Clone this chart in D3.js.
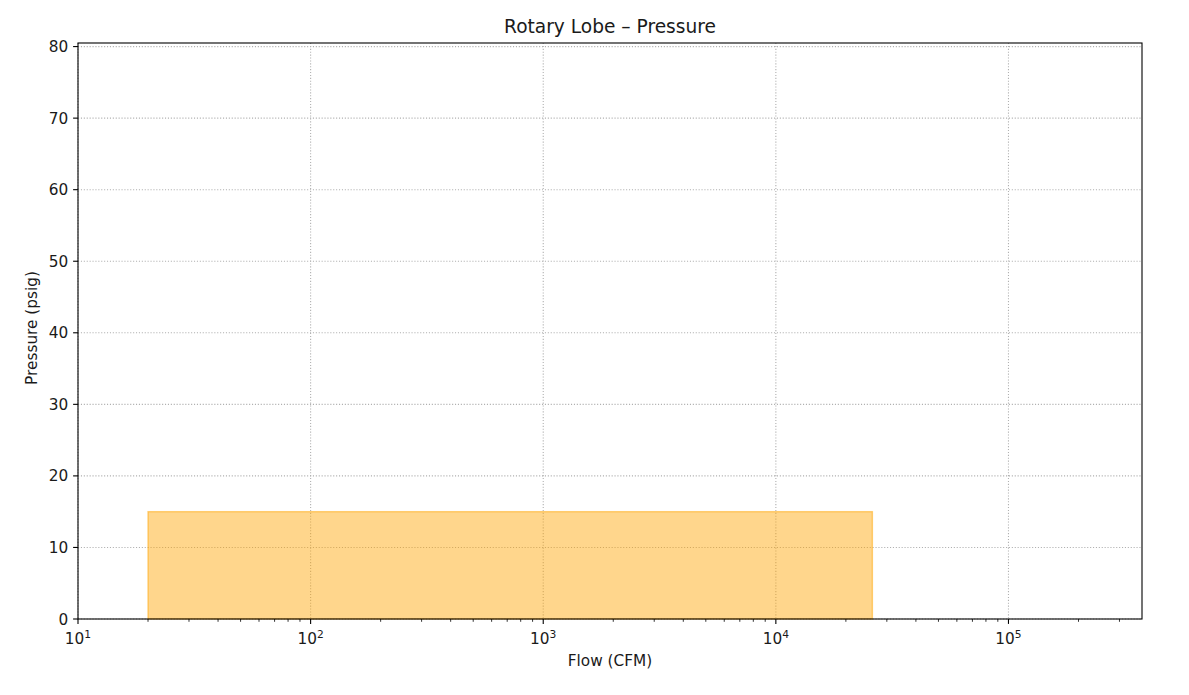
<!DOCTYPE html>
<html>
<head>
<meta charset="utf-8">
<script src="https://cdn.jsdelivr.net/npm/d3@7"></script>
<style>
  body { margin: 0; background: #fff; }
  text { font-family: "DejaVu Sans", sans-serif; fill: #1a1a1a; }
</style>
</head>
<body>
<div id="chart"></div>
<script>
// data
const ranges = ["Rotary Lobe"];
const flowMin = [20];
const flowMax = [26000];
const pressureMax = [15];
const xDomain = [10, 375000];
const yDomain = [0, 80.5];
const yTicks = [0, 10, 20, 30, 40, 50, 60, 70, 80];
const xDecades = [10, 100, 1000, 10000, 100000];

const margin = {top: 43, right: 47, bottom: 76, left: 78},
    width = 1189 - margin.left - margin.right,
    height = 695 - margin.top - margin.bottom;

var svg = d3.select("#chart")
  .append("svg")
    .attr("width", 1189)
    .attr("height", 695)
  .append("g")
    .attr("transform", "translate(" + margin.left + "," + margin.top + ")");

var x = d3.scaleLog().domain(xDomain).range([0, width]);
var y = d3.scaleLinear().domain(yDomain).range([height, 0]);

// grid
svg.append("g")
  .selectAll("line")
  .data(xDecades)
  .enter().append("line")
  .attr("x1", d => x(d)).attr("x2", d => x(d))
  .attr("y1", 0).attr("y2", height)
  .attr("stroke", "#b0b0b0").attr("stroke-width", 1.1)
  .attr("stroke-dasharray", "1.1,1.8");

svg.append("g")
  .selectAll("line")
  .data(yTicks)
  .enter().append("line")
  .attr("x1", 0).attr("x2", width)
  .attr("y1", d => y(d)).attr("y2", d => y(d))
  .attr("stroke", "#b0b0b0").attr("stroke-width", 1.1)
  .attr("stroke-dasharray", "1.1,1.8");

// range area
svg.selectAll("rect.range")
  .data(ranges)
  .enter().append("rect")
  .attr("class", "range")
  .attr("x", (d, i) => x(flowMin[i]))
  .attr("y", (d, i) => y(pressureMax[i]))
  .attr("width", (d, i) => x(flowMax[i]) - x(flowMin[i]))
  .attr("height", (d, i) => y(0) - y(pressureMax[i]))
  .attr("fill", "orange")
  .attr("fill-opacity", 0.45)
  .attr("stroke", "orange")
  .attr("stroke-opacity", 0.5)
  .attr("stroke-width", 1.4);

// minor x ticks
var minor = [];
xDecades.forEach(function(d) {
  for (var k = 2; k <= 9; k++) {
    if (d * k <= xDomain[1]) minor.push(d * k);
  }
});

svg.append("g")
  .selectAll("line")
  .data(minor)
  .enter().append("line")
  .attr("x1", d => x(d)).attr("x2", d => x(d))
  .attr("y1", height).attr("y2", height + 2.8)
  .attr("stroke", "#000").attr("stroke-width", 0.8);

// major x ticks
var xt = svg.append("g")
  .selectAll("g")
  .data(xDecades)
  .enter().append("g")
  .attr("transform", d => "translate(" + x(d) + "," + height + ")");

xt.append("line")
  .attr("y2", 4.9)
  .attr("stroke", "#000").attr("stroke-width", 1.1);

var xl = xt.append("text")
  .attr("y", 25)
  .attr("text-anchor", "middle")
  .style("font-size", "15.3px");
xl.append("tspan").text("10");
xl.append("tspan")
  .attr("dy", -6.5)
  .style("font-size", "10.7px")
  .text(d => Math.round(Math.log10(d)));

// y ticks
var yt = svg.append("g")
  .selectAll("g")
  .data(yTicks)
  .enter().append("g")
  .attr("transform", d => "translate(0," + y(d) + ")");

yt.append("line")
  .attr("x2", -4.9)
  .attr("stroke", "#000").attr("stroke-width", 1.1);

yt.append("text")
  .attr("x", -9.8)
  .attr("dy", "0.36em")
  .attr("text-anchor", "end")
  .style("font-size", "15.3px")
  .text(d => d);

// frame
svg.append("rect")
  .attr("width", width).attr("height", height)
  .attr("fill", "none")
  .attr("stroke", "#000").attr("stroke-width", 1.1);

// labels
svg.append("text")
  .attr("x", width / 2)
  .attr("y", -10)
  .attr("text-anchor", "middle")
  .style("font-size", "18.6px")
  .text("Rotary Lobe \u2013 Pressure");

svg.append("text")
  .attr("x", width / 2)
  .attr("y", height + 47)
  .attr("text-anchor", "middle")
  .style("font-size", "15.3px")
  .text("Flow (CFM)");

svg.append("text")
  .attr("transform", "rotate(-90)")
  .attr("x", -height / 2 + 3)
  .attr("y", -41)
  .attr("text-anchor", "middle")
  .style("font-size", "15.3px")
  .text("Pressure (psig)");
</script>
</body>
</html>
